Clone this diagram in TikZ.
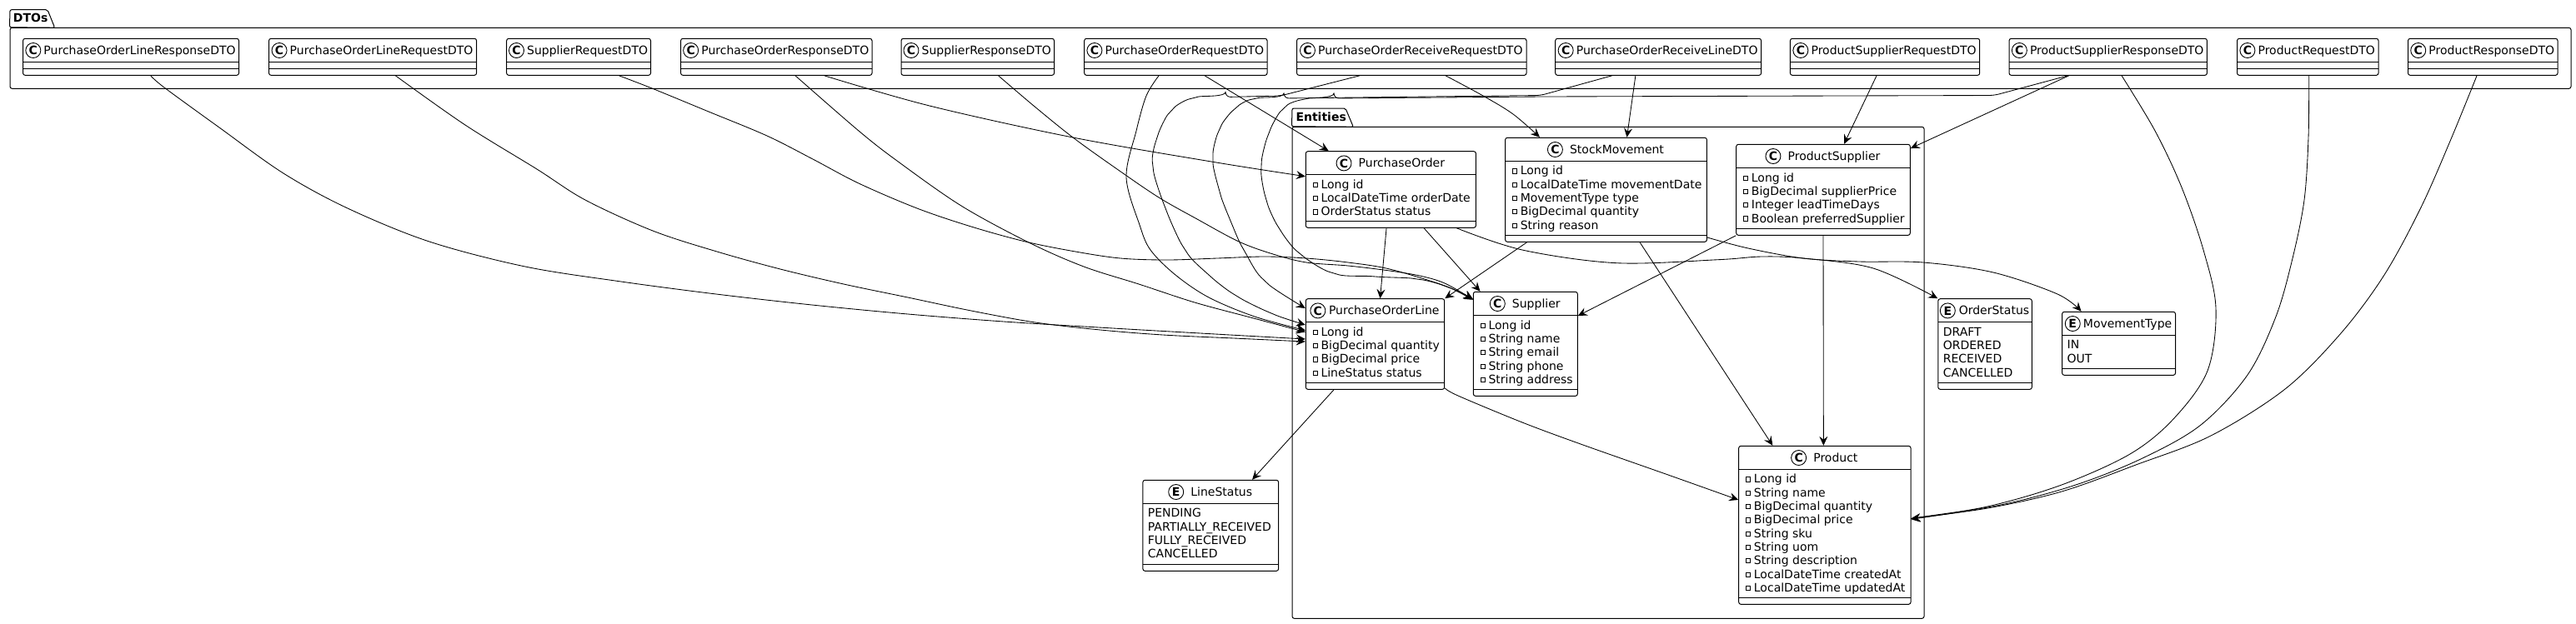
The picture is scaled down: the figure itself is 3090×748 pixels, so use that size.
\documentclass[tikz,border=0pt]{standalone}
\usepackage{fontspec}
\setmainfont{DejaVu Sans}
\usetikzlibrary{positioning,arrows.meta,backgrounds,calc}

% box, header text, header circle and header rule of one class
\newcommand{\umlhead}[9]{
  \pgfmathsetmacro\bw{#5-#4}
  \pgfmathsetmacro\bh{#7-#6}
  \pgfmathsetmacro\cx{(#4+#5)/2}
  \pgfmathsetmacro\cy{(#6+#7)/2}
  \pgfmathsetmacro\tx{\cx+(18+#9)/2}
  \node[cls,minimum width=\bw pt,minimum height=\bh pt] (#1) at (\cx,\cy) {};
  \node[ttl] (#1-t) at (\tx,#6+18.7) {#2};
  \node[cir,anchor=east] (#1-c) at ([xshift=-#9pt,yshift=4.5pt]#1-t.base west) {#3};
  \draw[cln] (#4,#8) -- (#5,#8);
}

\begin{document}
\begin{tikzpicture}[
    x=1pt,y=-1pt,
    every node/.style={font=\fontsize{14}{16.3}\selectfont},
    cls/.style={draw=black,line width=1pt,fill=white,rounded corners=2.5pt,inner sep=0pt},
    ttl/.style={anchor=base,inner sep=0pt},
    cir/.style={draw=black,line width=.9pt,circle,fill=white,minimum size=18pt,inner sep=0pt,
      font=\fontsize{14}{16}\selectfont\bfseries},
    cln/.style={draw=black,line width=1pt},
    mem/.style={anchor=base west,inner sep=0pt},
    prv/.style={draw=black,line width=.8pt,fill=white,minimum size=5.2pt,inner sep=0pt},
    pkg/.style={draw=black,line width=1pt,rounded corners=2.5pt,inner sep=0pt},
    tab/.style={draw=black,line width=1pt,rounded corners=2pt},
    plb/.style={anchor=base west,inner sep=0pt,font=\fontsize{14}{16}\selectfont\bfseries},
    ed/.style={draw=black,line width=.85pt,smooth,tension=.55,
      -{Stealth[length=11pt,width=10pt,inset=4pt]}}
  ]
  \useasboundingbox (0,0) rectangle (3090,748);
  % packages
  \node[pkg,minimum width=3072pt,minimum height=73pt] (dtos) at (1548,69.8) {};
  \draw[tab] (dtos.north west) -- (12,11.7) -- (57,11.7) -- (65.7,33.3) -- cycle;
  \node[plb] (dtos-l) at (15.8,26.5) {DTOs};
  \node[pkg,minimum width=758pt,minimum height=590pt] (entities) at (1929,447.3) {};
  \draw[tab] (entities.north west) -- (1550,130) -- (1614,130) -- (1623.3,152.3) -- cycle;
  \node[plb] (entities-l) at (1554.3,145.3) {Entities};
  % DTO row
  \foreach \n/\t/\xa/\xb in {
    POLineRespDTO/PurchaseOrderLineResponseDTO/27.6/286.5,
    POLineReqDTO/PurchaseOrderLineRequestDTO/322.6/571.6,
    SupReqDTO/SupplierRequestDTO/607.7/780.5,
    PORespDTO/PurchaseOrderResponseDTO/816.6/1046,
    SupRespDTO/SupplierResponseDTO/1081/1264.5,
    POReqDTO/PurchaseOrderRequestDTO/1300.7/1520,
    PORecvReqDTO/PurchaseOrderReceiveRequestDTO/1555.6/1831,
    PORecvLineDTO/PurchaseOrderReceiveLineDTO/1865.7/2112.6,
    PSReqDTO/ProductSupplierRequestDTO/2147.4/2374.7,
    PSRespDTO/ProductSupplierResponseDTO/2410/2647.4,
    ProdReqDTO/ProductRequestDTO/2683.5/2853,
    ProdRespDTO/ProductResponseDTO/2888.5/3068}{
    \umlhead{\n}{\t}{C}{\xa}{\xb}{46.3}{90.3}{74.3}{3}
    \draw[cln] (\xa,82.3) -- (\xb,82.3);
  }
  % entities
  \foreach \n/\t/\xa/\xb/\ya/\yb/\yt/\ys/\g/\body in {
    PO/PurchaseOrder/1566.3/1770.4/181.7/273.3/209.7/265.3/8/{Long id,LocalDateTime orderDate,OrderStatus status},
    SM/StockMovement/1805.6/2047.4/165.3/290.3/193.3/282.3/8/{Long id,LocalDateTime movementDate,MovementType type,BigDecimal quantity,String reason},
    PS/ProductSupplier/2082.7/2291.3/173.3/282.3/201.5/274.3/8/{Long id,BigDecimal supplierPrice,Integer leadTimeDays,Boolean preferredSupplier},
    POLine/PurchaseOrderLine/1566.3/1732.7/358.7/467.3/386.7/459.3/3.5/{Long id,BigDecimal quantity,BigDecimal price,LineStatus status},
    Sup/Supplier/1767.3/1892.3/350.3/475.3/378.5/467.3/8/{Long id,String name,String email,String phone,String address},
    Prod/Product/2085.7/2292/535.3/725.3/563.3/717.3/8/{Long id,String name,BigDecimal quantity,BigDecimal price,String sku,String uom,String description,LocalDateTime createdAt,LocalDateTime updatedAt}}{
    \umlhead{\n}{\t}{C}{\xa}{\xb}{\ya}{\yb}{\yt}{\g}
    \draw[cln] (\xa,\ys) -- (\xb,\ys);
    \foreach \m [count=\i] in \body {
      \node[prv] (\n-p\i) at (\xa+11.5,\yt+12+16.33*\i-16.33) {};
      \node[mem] (\n-m\i) at (\xa+18,\yt+16.6+16.33*\i-16.33) {\m};
    }
  }
  % enums
  \foreach \n/\t/\xa/\xb/\ya/\yb/\yt/\ys/\g/\body in {
    OrderStatus/OrderStatus/2324.8/2437.3/358.7/467.3/386.5/459.3/3.8/{DRAFT,ORDERED,RECEIVED,CANCELLED},
    MovementType/MovementType/2473.6/2609.5/374.3/450.3/402.3/442.3/3/{IN,OUT},
    LineStatus/LineStatus/1370.9/1533.6/576.3/685.3/604.3/677.3/8/{PENDING,PARTIALLY\_RECEIVED,FULLY\_RECEIVED,CANCELLED}}{
    \umlhead{\n}{\t}{E}{\xa}{\xb}{\ya}{\yb}{\yt}{\g}
    \draw[cln] (\xa,\ys) -- (\xb,\ys);
    \foreach \m [count=\i] in \body {
      \node[mem] (\n-m\i) at (\xa+5.8,\yt+16.6+16.33*\i-16.33) {\m};
    }
  }
  % connectors (drawn behind)
  \begin{scope}[on background layer]
    % DTOs to PurchaseOrderLine
    \draw[ed] plot coordinates {([xshift=23.7pt]POLineRespDTO.south) (197,105) (263,153) (340,208) (417,250) (515,290) (630,320) (745,338) (859,353) (974,366) (1089,377) (1204,386) (1318,393) (1440,400) ([yshift=6pt]POLine.west)};
    \draw[ed] plot coordinates {([xshift=27.3pt]POLineReqDTO.south) (558,150) (644,203) (702,240) (783,277) (860,302) (936,323) (1012,341) (1089,357) (1165,373) (1242,387) (1320,396) (1395,402) (1480,406) ([yshift=3pt]POLine.west)};
    \draw[ed] plot coordinates {([xshift=22.7pt]PORespDTO.south) (1030,157) (1076,193) (1153,247) (1234,291) (1300,320) (1366,341) (1433,363) (1500,381) ([yshift=14.5pt]POLine.west)};
    \draw[ed] plot coordinates {([xshift=-20.3pt]POReqDTO.south) (1375,115) (1363,157) (1351,213) (1367,270) (1380,300) (1410,330) (1450,357) (1505,380) ([yshift=16.5pt]POLine.west)};
    \draw[ed,rounded corners=6pt] ([xshift=-62.3pt]PORecvReqDTO.south) -- (1536,115) -- plot coordinates {(1470,116.5) (1432,117.5) (1405,133) (1388,165) (1383,200) (1398,250) (1421.7,300) (1450,330) (1483,355) (1525,376) ([yshift=23pt]POLine.west)};
    \draw[ed,rounded corners=6pt] ([xshift=-55.5pt]PORecvLineDTO.south) -- (1848,114.5) -- plot coordinates {(1540,118) (1505,118.5) (1482,130) (1463,155) (1455,190) (1463,230) (1476,265) (1492,300) (1517,337) ([yshift=43pt]POLine.west)};
    % DTOs to Supplier
    \draw[ed] plot coordinates {([xshift=48.5pt]SupReqDTO.south) (782,106) (850,134) (920,163) (975,191) (1030,220) (1100,250) (1165,272) (1230,290) (1290,302) (1344,310) (1400,312) (1460,310) (1517,308) (1567,310) (1617,315) (1667,323) (1733,343) ([yshift=54pt]Sup.west)};
    \draw[ed] plot coordinates {([xshift=24.8pt]SupRespDTO.south) (1240,127) (1287,165) (1340,203) (1390,237) (1436,263) (1486,290) (1527,305) (1567,315) (1617,319) (1667,325) (1703,331) (1733,340) ([yshift=53.5pt]Sup.west)};
    \draw[ed,rounded corners=6pt] ([xshift=-48.2pt]PSRespDTO.south) -- (2392,114.5) -- (1850,116) -- plot coordinates {(1600,118) (1565,119) (1540,130) (1522,160) (1513,200) (1519,240) (1535,275) (1560,305) (1600,328) (1650,332) (1700,335) (1735,344) ([yshift=53pt]Sup.west)};
    % DTOs to PurchaseOrder, StockMovement, ProductSupplier
    \draw[ed] plot coordinates {([xshift=57.5pt]PORespDTO.south) (1115,127) (1287,165) (1459,195) ([yshift=15.8pt]PO.west)};
    \draw[ed] ([xshift=34.7pt]POReqDTO.south) -- ([xshift=-74.6pt]PO.north);
    \draw[ed] plot coordinates {([xshift=40.7pt]PORecvReqDTO.south) (1779,115) (1815,137) ([xshift=-79.5pt]SM.north)};
    \draw[ed] ([xshift=-27.3pt]PORecvLineDTO.south) -- ([xshift=25pt]SM.north);
    \draw[ed] ([xshift=-10pt]PSReqDTO.south) -- ([xshift=25pt]PS.north);
    \draw[ed] ([xshift=-47pt]PSRespDTO.south) -- ([yshift=49.8pt]PS.east);
    % DTOs to Product
    \draw[ed] plot coordinates {([xshift=16.3pt]PSRespDTO.south) (2585,157) (2617,225) (2643,300) (2658,370) (2648,445) (2607,503) (2555,545) (2473,582) (2384,608) (2295,622) ([yshift=6pt]Prod.east)};
    \draw[ed] plot coordinates {([xshift=1.4pt]ProdReqDTO.south) (2769,165) (2764,240) (2750,310) (2730,380) (2696,450) (2640,510) (2570,550) (2490,582) (2400,606) ([yshift=7pt]Prod.east)};
    \draw[ed] plot coordinates {([xshift=-7.2pt]ProdRespDTO.south) (2940,167) (2904,249) (2860,330) (2808,400) (2741,467) (2652,523) (2562,558) (2473,590) (2384,610) ([yshift=8pt]Prod.east)};
    % between entities
    \draw[ed] ([xshift=-5.3pt]PO.south) -- ([xshift=6pt]POLine.north);
    \draw[ed] ([xshift=39.7pt]PO.south) -- ([xshift=-54.3pt]Sup.north);
    \draw[ed] plot coordinates {([xshift=79pt]PO.south) (1826,300) (1939,315.7) (2061,311.7) (2113,308) (2163,310) (2247,322) (OrderStatus.north west)};
    \draw[ed] ([xshift=-94.9pt]SM.south) -- (POLine.north east);
    \draw[ed] ([xshift=40.5pt]SM.south) -- ([xshift=-62.5pt]Prod.north);
    \draw[ed] plot coordinates {([yshift=-57.2pt]SM.east) (2097,298) (2163,310) (2230,314) (2307,315) (2391,327) (2468,353) ([xshift=-45pt]MovementType.north)};
    \draw[ed] (PS.south west) -- ([yshift=33.8pt]Sup.east);
    \draw[ed] (PS.south) -- ([xshift=-1.5pt]Prod.north);
    \draw[ed] ([xshift=-49.5pt]POLine.south) -- ([xshift=49.75pt]LineStatus.north);
    \draw[ed] plot coordinates {([yshift=2pt]POLine.south east) (1749,475) (1826,507) (1896,533) (2001,570) ([yshift=30.3pt]Prod.west)};
  \end{scope}
\end{tikzpicture}
\end{document}
